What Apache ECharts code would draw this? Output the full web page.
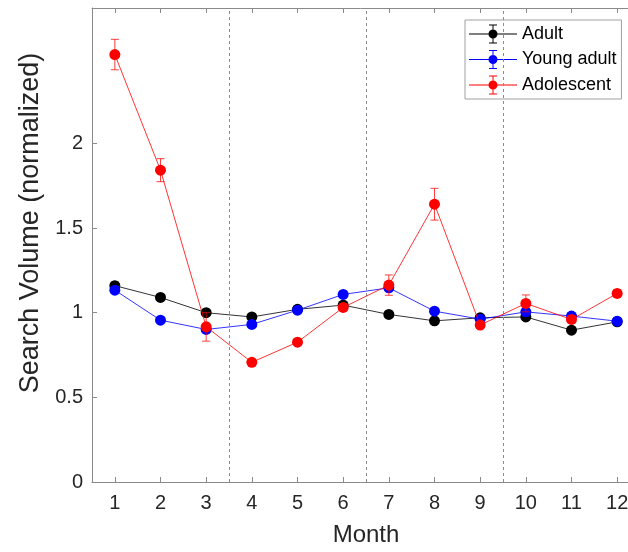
<!DOCTYPE html>
<html>
<head>
<meta charset="utf-8">
<script src="https://cdn.jsdelivr.net/npm/echarts@6.0.0/dist/echarts.min.js"></script>
<style>
html, body { margin: 0; padding: 0; background: #fff; }
#chart { width: 628px; height: 552px; }
</style>
</head>
<body>
<div id="chart"></div>
<script>
// data
var months = [1, 2, 3, 4, 5, 6, 7, 8, 9, 10, 11, 12];
var tickValuesY = [0, 0.5, 1, 1.5, 2];
var dividers = [3.5, 6.5, 9.5];

var adult = [1.16, 1.09, 1.00, 0.975, 1.02, 1.045, 0.99, 0.952, 0.97, 0.975, 0.897, 0.946];
var adultErr = [0.02, 0.015, 0.015, 0.015, 0.015, 0.015, 0.015, 0.015, 0.015, 0.015, 0.015, 0.015];

var youngAdult = [1.133, 0.956, 0.901, 0.931, 1.015, 1.108, 1.147, 1.009, 0.962, 1.005, 0.98, 0.95];
var youngAdultErr = [0.02, 0.015, 0.015, 0.015, 0.015, 0.015, 0.015, 0.015, 0.015, 0.015, 0.015, 0.015];

var adolescent = [2.525, 1.842, 0.917, 0.707, 0.826, 1.031, 1.163, 1.641, 0.927, 1.055, 0.96, 1.114];
var adolescentErr = [0.09, 0.068, 0.085, 0.015, 0.015, 0.02, 0.06, 0.094, 0.015, 0.05, 0.02, 0.02];

var font = "'Liberation Sans', Arial, Helvetica, sans-serif";
var axisGray = '#8a8a8a';
var textColor = '#262626';

// legend icon: line + marker + error bar
var legendIcon = 'path://M0 9 h48 v1 h-48 Z M23.5 0 h1 v19 h-1 Z M20 0 h8 v1 h-8 Z M20 18 h8 v1 h-8 Z ' +
    'M19.5 9.5 a4.5 4.5 0 1 1 9 0 a4.5 4.5 0 1 1 -9 0 Z';

function errorBars(values, errs, color, z) {
    return {
        type: 'custom',
        z: z,
        silent: true,
        data: months.map(function (m, i) {
            return [m, values[i] - errs[i], values[i] + errs[i]];
        }),
        encode: { x: 0, y: [1, 2] },
        renderItem: function (params, api) {
            var lo = api.coord([api.value(0), api.value(1)]);
            var hi = api.coord([api.value(0), api.value(2)]);
            var w = 4;
            var style = { stroke: color, lineWidth: 1, opacity: 0.75 };
            return {
                type: 'group',
                children: [
                    { type: 'line', shape: { x1: lo[0], y1: lo[1], x2: hi[0], y2: hi[1] }, style: style },
                    { type: 'line', shape: { x1: lo[0] - w, y1: lo[1], x2: lo[0] + w, y2: lo[1] }, style: style },
                    { type: 'line', shape: { x1: hi[0] - w, y1: hi[1], x2: hi[0] + w, y2: hi[1] }, style: style }
                ]
            };
        }
    };
}

function lineSeries(name, values, color, z) {
    return {
        name: name,
        type: 'line',
        z: z,
        data: months.map(function (m, i) { return [m, values[i]]; }),
        symbol: 'circle',
        symbolSize: 11,
        itemStyle: { color: color },
        lineStyle: { color: color, width: 1, opacity: 0.8 }
    };
}

var myChart = echarts.init(document.getElementById('chart'));

var blackLine = lineSeries('Adult', adult, '#000000', 2);
blackLine.markLine = {
    silent: true,
    symbol: ['none', 'none'],
    label: { show: false },
    lineStyle: { color: '#8c8c8c', type: [3, 3], width: 1 },
    data: dividers.map(function (d) { return { xAxis: d }; })
};

var option = {
    animation: false,
    textStyle: { fontFamily: font },
    grid: {
        left: 92,
        top: 8,
        width: 548,
        height: 474,
        outerBoundsMode: 'none',
        containLabel: false
    },
    legend: {
        orient: 'vertical',
        left: 465,
        top: 20,
        align: 'left',
        padding: [4.5, 5, 4.5, 4],
        itemGap: 6.5,
        itemWidth: 48,
        itemHeight: 19,
        icon: legendIcon,
        backgroundColor: '#fff',
        borderColor: '#a0a0a0',
        borderWidth: 1,
        borderRadius: 0,
        itemStyle: { borderWidth: 0 },
        textStyle: { fontFamily: font, fontSize: 18, color: '#000', lineHeight: 19 },
        data: ['Adult', 'Young adult', 'Adolescent']
    },
    xAxis: [
        {
            type: 'value',
            min: 0.5,
            max: 12.5,
            name: 'Month',
            nameLocation: 'middle',
            nameGap: 41,
            nameTextStyle: { fontFamily: font, fontSize: 24, color: textColor, padding: [0, 0, 0, 0] },
            axisLine: { show: true, onZero: false, lineStyle: { color: axisGray } },
            axisTick: { show: true, inside: true, length: 5, customValues: months, lineStyle: { color: axisGray } },
            axisLabel: { customValues: months, margin: 11, fontFamily: font, fontSize: 20, color: textColor },
            splitLine: { show: false }
        },
        {
            type: 'value',
            position: 'top',
            min: 0.5,
            max: 12.5,
            axisLine: { show: true, onZero: false, lineStyle: { color: axisGray } },
            axisTick: { show: true, inside: true, length: 5, customValues: months, lineStyle: { color: axisGray } },
            axisLabel: { show: false },
            splitLine: { show: false }
        }
    ],
    yAxis: {
        type: 'value',
        min: 0,
        max: 2.8,
        name: 'Search Volume (normalized)',
        nameLocation: 'middle',
        nameGap: 48,
        nameTextStyle: { fontFamily: font, fontSize: 27, color: textColor, padding: [0, 0, 0, 44] },
        axisLine: { show: true, onZero: false, lineStyle: { color: axisGray } },
        axisTick: { show: true, inside: true, length: 5, customValues: tickValuesY, lineStyle: { color: axisGray } },
        axisLabel: { customValues: tickValuesY, margin: 9, fontFamily: font, fontSize: 20, color: textColor },
        splitLine: { show: false }
    },
    series: [
        errorBars(adult, adultErr, '#000000', 1),
        blackLine,
        errorBars(youngAdult, youngAdultErr, '#0000ff', 3),
        lineSeries('Young adult', youngAdult, '#0000ff', 4),
        errorBars(adolescent, adolescentErr, '#ff0000', 5),
        lineSeries('Adolescent', adolescent, '#ff0000', 6)
    ]
};

myChart.setOption(option);
</script>
</body>
</html>
